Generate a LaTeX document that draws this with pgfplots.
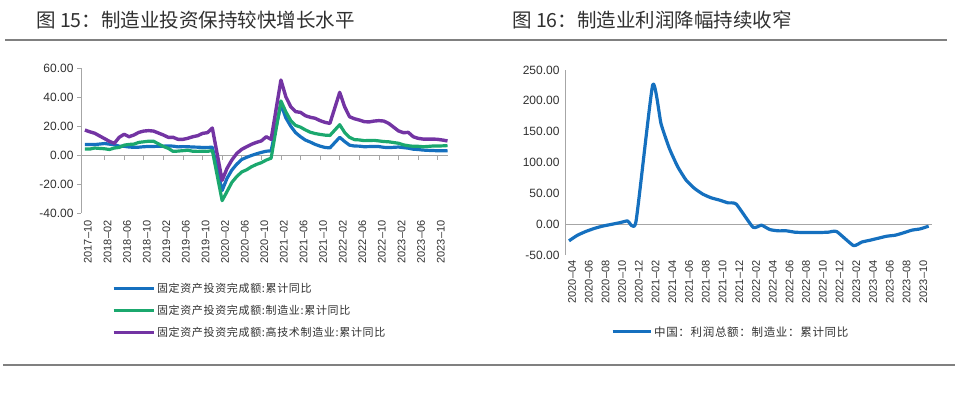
\documentclass[border=0pt]{standalone}
\usepackage{pgfplots}
\pgfplotsset{compat=1.18}
\usepackage{fontspec}
\setmainfont{Liberation Sans}
\newfontfamily\cjk{Noto Sans CJK SC}
\newfontfamily\cjkwide[LetterSpace=6]{Noto Sans CJK SC}
\definecolor{cblue}{HTML}{1570BF}
\definecolor{cgreen}{HTML}{1BA86E}
\definecolor{cpurple}{HTML}{7334A3}
\definecolor{axgray}{HTML}{A6A6A6}
\definecolor{txt}{HTML}{303030}
\begin{document}
\begin{tikzpicture}[x=1pt,y=1pt]
\path[use as bounding box] (0,0) rectangle (960,-399);
\node[anchor=west,inner sep=0pt,text=txt] at (36pt,-20pt) {\cjk\fontsize{19.5}{22}\selectfont 图 15：制造业投资保持较快增长水平};
\node[anchor=west,inner sep=0pt,text=txt] at (512pt,-20pt) {\cjk\fontsize{19.5}{22}\selectfont 图 16：制造业利润降幅持续收窄};
\draw[gray, line width=1.2pt] (5pt,-40pt) -- (947pt,-40pt);
\draw[gray, line width=1.2pt] (3pt,-365pt) -- (955pt,-365pt);

\begin{axis}[
  scale only axis, width=367pt, height=145pt,
  at={(81pt,-213pt)}, anchor=south west,
  xmin=-0.8, xmax=74.1, ymin=-40, ymax=60,
  axis x line=bottom, axis y line=left,
  x axis line style={draw=none},
  y axis line style={axgray, line width=1pt, -},
  clip=false,
  xtick={0,4,...,72},
  xticklabels={2017–10,2018–02,2018–06,2018–10,2019–02,2019–06,2019–10,2020–02,2020–06,2020–10,2021–02,2021–06,2021–10,2022–02,2022–06,2022–10,2023–02,2023–06,2023–10},
  xticklabel style={rotate=90, anchor=east, yshift=-3pt, font=\fontsize{11}{12}\selectfont, text=txt},
  xtick style={draw=none},
  ytick={-40,-20,0,20,40,60},
  yticklabels={-40.00,-20.00,0.00,20.00,40.00,60.00},
  yticklabel style={font=\fontsize{12}{13}\selectfont, text=txt},
  ytick style={axgray, line width=0.8pt},
  tick align=outside, major tick length=4pt,
  legend style={at={(0.084,-0.47)}, anchor=north west, draw=none, fill=none,
    font=\cjkwide\fontsize{11}{12}\selectfont, text=txt, row sep=7pt, inner sep=0pt,
    cells={anchor=west}},
  legend cell align=left,
  legend image code/.code={\draw[#1, line width=3pt] (0pt,0pt) -- (40pt,0pt);},
]
\draw[axgray, line width=1pt] (axis cs:-0.8,0) -- (axis cs:74.1,0);
\pgfplotsinvokeforeach{4,8,...,72}{\draw[axgray, line width=0.8pt] (axis cs:#1,0) -- ++(0pt,-5pt);}
\addplot[cblue, line width=3.2pt, line join=round] coordinates {
(0,7.3)(1,7.2)(2,7.2)(4,7.9)(5,7.5)(6,7.0)(7,6.1)(8,6.0)(9,5.5)(10,5.3)(11,5.4)(12,5.7)(13,5.9)(14,5.9)
(16,6.1)(17,6.3)(18,6.1)(19,5.6)(20,5.8)(21,5.7)(22,5.5)(23,5.4)(24,5.2)(25,5.2)(26,5.4)
(28,-24.5)(29,-16.1)(30,-10.3)(31,-6.3)(32,-3.1)(33,-1.6)(34,-0.3)(35,0.8)(36,1.8)(37,2.6)(38,2.9)
(40,35.0)(41,25.6)(42,19.9)(43,15.4)(44,12.6)(45,10.3)(46,8.9)(47,7.3)(48,6.1)(49,5.2)(50,4.9)
(52,12.2)(53,9.3)(54,6.8)(55,6.2)(56,6.1)(57,5.7)(58,5.8)(59,5.9)(60,5.8)(61,5.3)(62,5.1)
(64,5.5)(65,5.1)(66,4.7)(67,4.0)(68,3.8)(69,3.4)(70,3.2)(71,3.1)(72,2.9)(73,2.9)(74,3.0)};
\addlegendentry{固定资产投资完成额:累计同比}
\addplot[cgreen, line width=3.2pt, line join=round] coordinates {
(0,4.1)(1,4.1)(2,4.8)(4,4.3)(5,3.8)(6,4.8)(7,5.2)(8,6.8)(9,7.3)(10,7.5)(11,8.7)(12,9.1)(13,9.5)(14,9.5)
(16,5.9)(17,4.6)(18,2.5)(19,2.7)(20,3.0)(21,3.3)(22,2.6)(23,2.5)(24,2.6)(25,2.5)(26,3.1)
(28,-31.5)(29,-25.2)(30,-18.8)(31,-14.8)(32,-11.7)(33,-10.2)(34,-8.1)(35,-6.5)(36,-5.3)(37,-3.5)(38,-2.2)
(40,37.3)(41,29.8)(42,23.8)(43,20.4)(44,19.2)(45,17.3)(46,15.7)(47,14.8)(48,14.2)(49,13.7)(50,13.5)
(52,20.9)(53,15.6)(54,12.2)(55,10.6)(56,10.4)(57,9.9)(58,10.0)(59,10.1)(60,9.7)(61,9.3)(62,9.1)
(64,8.1)(65,7.0)(66,6.4)(67,6.0)(68,6.0)(69,5.7)(70,5.9)(71,6.2)(72,6.2)(73,6.3)(74,6.5)};
\addlegendentry{固定资产投资完成额:制造业:累计同比}
\addplot[cpurple, line width=3.4pt, line join=round] coordinates {
(0,17.2)(1,16.0)(2,15.0)(4,11.3)(5,9.4)(6,8.0)(7,12.2)(8,14.3)(9,12.6)(10,13.8)(11,15.6)(12,16.5)(13,16.8)(14,16.5)
(16,13.8)(17,12.2)(18,12.2)(19,10.8)(20,10.8)(21,11.5)(22,12.6)(23,13.3)(24,14.9)(25,15.4)(26,18.6)
(28,-17.5)(29,-9.2)(30,-3.4)(31,1.1)(32,3.9)(33,5.7)(34,7.4)(35,8.7)(36,9.7)(37,12.6)(38,10.8)
(40,51.7)(41,40.2)(42,33.3)(43,29.9)(44,29.4)(45,27.1)(46,26.0)(47,25.3)(48,23.7)(49,22.5)(50,21.8)
(52,43.2)(53,33.3)(54,26.4)(55,25.0)(56,24.1)(57,23.0)(58,22.8)(59,23.4)(60,23.7)(61,23.4)(62,21.8)
(64,16.6)(65,15.4)(66,15.6)(67,12.6)(68,11.5)(69,11.0)(70,11.0)(71,11.0)(72,10.8)(73,10.3)(74,9.7)};
\addlegendentry{固定资产投资完成额:高技术制造业:累计同比}
\end{axis}

\begin{axis}[
  scale only axis, width=367pt, height=185pt,
  at={(565pt,-255pt)}, anchor=south west,
  xmin=-0.48, xmax=43.4, ymin=-50, ymax=250,
  axis x line=bottom, axis y line=left,
  x axis line style={draw=none},
  y axis line style={axgray, line width=1pt, -},
  clip=false,
  xtick={0,2,...,42},
  xticklabels={2020–04,2020–06,2020–08,2020–10,2020–12,2021–02,2021–04,2021–06,2021–08,2021–10,2021–12,2022–02,2022–04,2022–06,2022–08,2022–10,2022–12,2023–02,2023–04,2023–06,2023–08,2023–10},
  xticklabel style={rotate=90, anchor=east, yshift=-3pt, font=\fontsize{11}{12}\selectfont, text=txt},
  xtick style={draw=none},
  ytick={-50,0,50,100,150,200,250},
  yticklabels={-50.00,0.00,50.00,100.00,150.00,200.00,250.00},
  yticklabel style={font=\fontsize{12}{13}\selectfont, text=txt},
  ytick style={draw=none},
  major tick length=4pt,
  legend style={at={(0.125,-0.416)}, anchor=west, draw=none, fill=none,
    font=\cjkwide\fontsize{11.5}{12}\selectfont, text=txt, inner sep=0pt},
  legend image code/.code={\draw[#1, line width=3pt] (0pt,0pt) -- (38pt,0pt);},
]
\draw[axgray, line width=1pt] (axis cs:-0.48,0) -- (axis cs:43.4,0);
\addplot[cblue, line width=3.2pt, smooth, tension=0.3, line join=round] coordinates {
(0,-27)(1,-18)(2,-11.9)(3,-7)(4,-3.2)(5,-0.5)(6,2.2)(7,5.4)(8,3.8)
(10,225.6)(11,163)(12,122.8)(13,93)(14,71.4)(15,58)(16,48.7)(17,42.7)(18,39)(19,34.6)(20,32.5)
(22,-5)(23,-1.6)(24,-8.7)(25,-10.8)(26,-10.8)(27,-13)(28,-13.5)(29,-13.5)(30,-13.5)(31,-13)(32,-12)
(34,-34.6)(35,-29)(36,-26)(37,-22.7)(38,-19.5)(39,-17.9)(40,-14)(41,-9.7)(42,-7.6)(43,-3.2)};
\addlegendentry{中国：利润总额：制造业：累计同比}
\end{axis}
\end{tikzpicture}
\end{document}
